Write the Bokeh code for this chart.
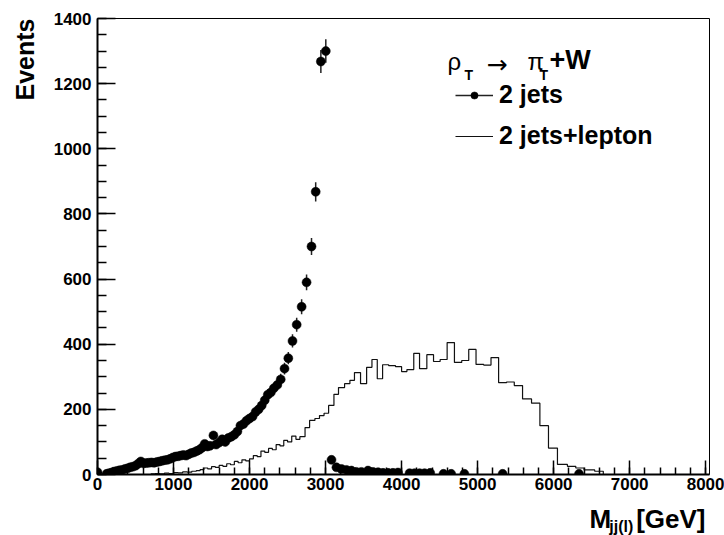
import numpy as np
from math import pi
from bokeh.plotting import figure
from bokeh.layouts import row, column
from bokeh.models import FixedTicker, Label, Legend, LegendItem, ColumnDataSource
from bokeh.core.properties import value
from bokeh.embed import file_html
from bokeh.resources import INLINE

# ---------------- data ----------------
# "2 jets" points (mass in GeV, events)
jets2_mass = [0, 120, 150, 185, 220, 255, 290, 325, 360, 395,
              430, 465, 500, 535, 570, 605, 640, 675, 710, 745,
              780, 815, 850, 885, 920, 955, 990, 1025, 1060, 1095,
              1130, 1165, 1200, 1235, 1270, 1305, 1340, 1375, 1410, 1445,
              1480, 1525, 1560, 1600, 1640, 1680, 1720, 1760, 1800, 1840,
              1880, 1920, 1960, 2000, 2040, 2080, 2120, 2160, 2200, 2240,
              2280, 2320, 2365, 2410, 2460, 2510, 2565, 2620, 2685, 2750,
              2815, 2870, 2938, 3003, 3078, 3143, 3209, 3274, 3340, 3405,
              3471, 3558, 3624, 3690, 3755, 3821, 3886, 3952, 4105, 4170,
              4236, 4302, 4376, 4551, 4652, 4826, 5329, 6334]
jets2_events = [7, 2, 4, 6, 9, 11, 13, 14, 17, 19,
                22, 24, 27, 33, 40, 34, 35, 36, 37, 36,
                38, 40, 42, 44, 45, 48, 52, 55, 56, 58,
                60, 58, 62, 66, 68, 72, 76, 82, 94, 86,
                88, 120, 92, 98, 108, 100, 112, 116, 122, 132,
                150, 155, 165, 172, 178, 192, 200, 212, 228, 245,
                252, 265, 275, 292, 325, 357, 410, 460, 515, 590,
                700, 868, 1268, 1300, 45, 22, 17, 14, 12, 8,
                8, 12, 8, 7, 5, 5, 5, 6, 4, 4,
                4, 4, 5, 2, 2, 2, 2, 2]

# "2 jets+lepton" histogram (bin edges in GeV, events per bin)
lep_edges = [700, 760, 820, 880, 940, 1000, 1060, 1120, 1180, 1240,
             1300, 1350, 1400, 1450, 1500, 1550, 1600, 1650, 1700, 1750,
             1800, 1850, 1900, 1950, 2000, 2050, 2100, 2150, 2200, 2250,
             2300, 2350, 2400, 2450, 2500, 2555, 2610, 2662, 2730, 2790,
             2860, 2920, 2980, 3040, 3110, 3170, 3250, 3320, 3380, 3460,
             3540, 3610, 3680, 3750, 3830, 3920, 4000, 4070, 4160, 4236,
             4332, 4420, 4507, 4599, 4695, 4791, 4883, 4979, 5080, 5176,
             5276, 5381, 5482, 5591, 5709, 5819, 5932, 6050, 6181, 6291,
             6400, 6540, 6653]
lep_events = [2, 3, 2, 4, 3, 6, 5, 8, 7, 10,
              12, 15, 20, 17, 24, 22, 28, 25, 33, 30,
              40, 36, 45, 42, 48, 58, 55, 72, 68, 80,
              76, 92, 88, 105, 100, 118, 108, 116, 144, 166,
              172, 181, 188, 212, 246, 267, 279, 289, 313, 279,
              329, 353, 294, 337, 334, 331, 316, 322, 372, 325,
              368, 347, 353, 405, 344, 350, 384, 338, 336, 359,
              282, 284, 273, 232, 219, 150, 81, 31, 25, 20,
              14, 10]

x_major_ticks = [0, 1000, 2000, 3000, 4000, 5000, 6000, 7000, 8000]
y_major_ticks = [0, 200, 400, 600, 800, 1000, 1200, 1400]
x_minor_ticks = list(range(0, 8001, 200))
y_minor_ticks = list(range(0, 1401, 50))

legend_labels = ["2 jets", "2 jets+lepton"]
y_title = "Events"
x_title_main, x_title_sub, x_title_unit = "M", "jj(l)", "[GeV]"

# ---------------- layout (page pixels) ----------------
FONT = "Liberation Sans"
PAGE_W, PAGE_H = 724, 535
LEFT_W = 40            # strip holding the y title
MAIN_H = 505           # main figure height; strip below holds the x title
FRAME_L, FRAME_R, FRAME_T, FRAME_B = 97, 709, 18, 474
X0, X1 = 0, 8050
Y0, Y1 = 0, 1400
BASE = 0.34            # measured offset of the drawn baseline below the anchor (em)


def px2x(px):
    return X0 + (px - FRAME_L) / (FRAME_R - FRAME_L) * (X1 - X0)


def py2y(py):
    return Y0 + (FRAME_B - py) / (FRAME_B - FRAME_T) * (Y1 - Y0)


main_w = PAGE_W - LEFT_W
p = figure(width=main_w, height=MAIN_H, x_range=(X0, X1), y_range=(Y0, Y1),
           output_backend="svg", toolbar_location=None,
           min_border_left=FRAME_L - LEFT_W, min_border_right=PAGE_W - FRAME_R,
           min_border_top=FRAME_T, min_border_bottom=MAIN_H - FRAME_B)
p.background_fill_color = "white"
p.border_fill_color = "white"
p.xgrid.visible = False
p.ygrid.visible = False
p.outline_line_color = "black"
p.outline_line_width = 1

for ax in (p.xaxis, p.yaxis):
    ax.axis_line_width = 2
    ax.axis_line_color = "black"
    ax.major_tick_out = 0
    ax.minor_tick_out = 0
    ax.major_tick_line_width = 1.5
    ax.minor_tick_line_width = 1.5
    ax.major_label_text_font = FONT
    ax.major_label_text_font_style = "bold"
    ax.major_label_text_font_size = "17px"
    ax.major_label_text_color = "black"

p.xaxis.ticker = FixedTicker(ticks=x_major_ticks, minor_ticks=x_minor_ticks)
p.yaxis.ticker = FixedTicker(ticks=y_major_ticks, minor_ticks=y_minor_ticks)
p.xaxis.major_tick_in = 14
p.xaxis.minor_tick_in = 7
p.yaxis.major_tick_in = 18
p.yaxis.minor_tick_in = 9
p.xaxis.major_label_standoff = 3
p.yaxis.major_label_standoff = 6

# ---------------- glyphs ----------------
hist = p.step(x=lep_edges, y=lep_events + [0], mode="after",
              line_color="#111111", line_width=1.2)

m = np.array(jets2_mass, dtype=float)
ev = np.array(jets2_events, dtype=float)
err = np.sqrt(ev)
src = ColumnDataSource(dict(x=m, y=ev, lo=ev - err, hi=ev + err))
err_r = p.segment(x0="x", y0="lo", x1="x", y1="hi", source=src,
                  line_color="#222222", line_width=1.5)
pts_r = p.scatter(x="x", y="y", source=src, size=9, marker="circle",
                  fill_color="black", line_color="black", line_width=0.5)

# ---------------- legend ----------------
legend = Legend(items=[LegendItem(label=legend_labels[0], renderers=[err_r, pts_r]),
                       LegendItem(label=legend_labels[1], renderers=[hist])],
                location=(455 - FRAME_L, FRAME_B - 150), orientation="vertical",
                glyph_width=38, glyph_height=18, label_height=18, label_standoff=6,
                spacing=12, padding=0, margin=0,
                border_line_color=None, background_fill_alpha=0,
                label_text_font=FONT, label_text_font_style="bold",
                label_text_color="black",
                label_text_font_size="25px", label_text_baseline="middle")
p.add_layout(legend)


def add_label(px, py, text, size, style="bold", align="left", font=FONT):
    anchor_py = py - BASE * size
    p.add_layout(Label(x=px2x(px), y=py2y(anchor_py), text=text, text_font=font,
                       text_font_size=f"{size}px", text_font_style=style,
                       text_align=align, text_baseline="alphabetic",
                       text_color="black"))


# legend header: rho_T -> pi_T + W   (positions are glyph baselines in page px)
add_label(447, 69, "ρ", 24, style="normal")
add_label(464, 79, "T", 14)
add_label(486, 72, "→", 25, style="normal", font="DejaVu Sans")
add_label(527, 69, "π", 24, style="normal")
add_label(539, 79, "T", 14)
add_label(549, 69, "+W", 27)


# ---------------- title strips ----------------
def strip(w, h):
    f = figure(width=w, height=h, x_range=(0, w), y_range=(0, h),
               x_axis_type=None, y_axis_type=None, output_backend="svg",
               toolbar_location=None, min_border=0)
    f.outline_line_color = None
    f.background_fill_color = "white"
    f.border_fill_color = "white"
    return f


TITLE_SIZE = 26
SUB_SIZE = 16


def strip_text(f, x, y, text, size, align="left", angle=0.0):
    f.text(x=[x], y=[y], text=[text], angle=angle,
           text_font=value(FONT), text_font_size=value(f"{size}px"),
           text_font_style=value("bold"), text_align=value(align),
           text_baseline=value("alphabetic"), text_color="black")


left = strip(LEFT_W, PAGE_H)
strip_text(left, 33 - BASE * 25, PAGE_H - FRAME_T, y_title, 25,
           align="right", angle=pi / 2)

bot_h = PAGE_H - MAIN_H
bottom = strip(main_w, bot_h)
title_base = PAGE_H - (527 - BASE * TITLE_SIZE)
strip_text(bottom, 590 - LEFT_W, title_base, x_title_main, TITLE_SIZE)
strip_text(bottom, 612 - LEFT_W, PAGE_H - (531 - BASE * SUB_SIZE), x_title_sub, SUB_SIZE)
strip_text(bottom, 642 - LEFT_W, title_base, x_title_unit, TITLE_SIZE)

layout = row(left, column(p, bottom))
open("out.html", "w").write(file_html(layout, INLINE))
